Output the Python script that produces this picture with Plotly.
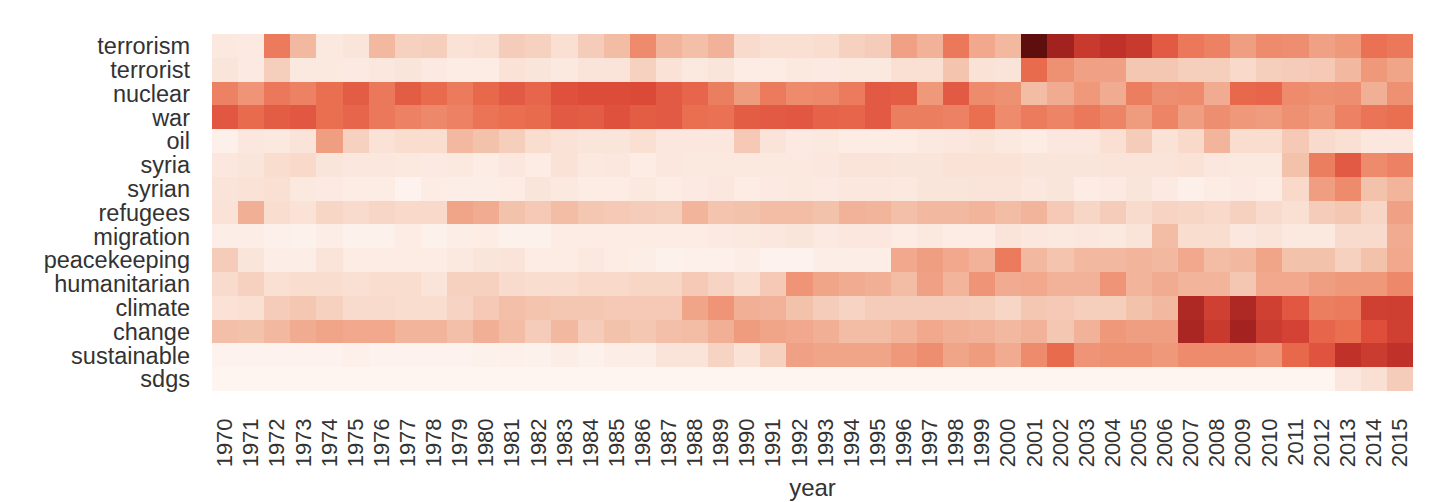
import plotly.graph_objects as go

years = [str(y) for y in range(1970, 2016)]
terms = ["terrorism", "terrorist", "nuclear", "war", "oil", "syria", "syrian", "refugees",
         "migration", "peacekeeping", "humanitarian", "climate", "change", "sustainable", "sdgs"]

terrorism = [.07,.06,.46,.27,.07,.09,.27,.18,.19,.11,.12,.2,.18,.12,.2,.26,.41,.28,.25,.29,.14,.12,.12,.13,.18,.2,.34,.29,.47,.32,.27,1.0,.85,.7,.74,.7,.57,.47,.44,.35,.41,.4,.34,.37,.49,.47]
terrorist = [.09,.06,.19,.07,.07,.06,.08,.09,.06,.05,.05,.11,.09,.07,.1,.1,.18,.11,.07,.09,.05,.05,.07,.06,.07,.07,.12,.12,.23,.11,.1,.51,.39,.34,.34,.22,.22,.19,.19,.15,.19,.2,.21,.27,.37,.33]
nuclear = [.44,.38,.47,.44,.5,.56,.47,.56,.51,.46,.52,.57,.53,.6,.62,.62,.63,.57,.53,.45,.36,.46,.41,.42,.46,.57,.56,.37,.57,.41,.39,.26,.31,.37,.31,.45,.4,.41,.31,.52,.53,.41,.39,.4,.3,.39]
war = [.58,.51,.56,.58,.5,.53,.47,.44,.42,.44,.48,.5,.51,.57,.56,.6,.56,.57,.5,.49,.56,.57,.58,.54,.53,.57,.45,.45,.44,.5,.41,.46,.43,.47,.43,.36,.43,.35,.4,.37,.36,.39,.37,.44,.48,.5]
oil = [.03,.08,.07,.1,.35,.18,.11,.13,.13,.27,.24,.19,.13,.11,.09,.09,.12,.08,.08,.08,.21,.1,.06,.07,.05,.05,.05,.07,.08,.09,.07,.05,.08,.08,.12,.2,.11,.15,.28,.13,.13,.21,.14,.12,.08,.08]
syria = [.08,.09,.13,.15,.09,.08,.08,.07,.06,.07,.05,.08,.05,.11,.07,.08,.05,.08,.07,.07,.07,.07,.07,.08,.1,.1,.09,.09,.11,.11,.11,.09,.09,.09,.1,.1,.1,.11,.08,.07,.07,.24,.45,.57,.41,.44]
syrian = [.1,.11,.12,.07,.06,.05,.05,.01,.05,.04,.04,.05,.09,.07,.05,.05,.07,.05,.06,.08,.05,.06,.07,.06,.08,.08,.07,.09,.09,.1,.1,.08,.09,.05,.06,.09,.06,.03,.05,.06,.05,.15,.35,.41,.24,.28]
refugees = [.11,.3,.13,.11,.16,.14,.16,.15,.15,.33,.31,.24,.21,.26,.22,.21,.2,.19,.28,.23,.24,.26,.26,.24,.29,.28,.25,.27,.27,.28,.26,.28,.21,.16,.2,.14,.17,.16,.15,.18,.14,.12,.2,.22,.16,.34]
migration = [.04,.04,.03,.02,.04,.02,.02,.05,.02,.04,.05,.02,.02,.05,.05,.05,.05,.05,.05,.06,.07,.08,.09,.06,.08,.08,.05,.07,.05,.05,.1,.08,.07,.08,.07,.1,.26,.13,.13,.08,.1,.07,.07,.14,.14,.31]
peacekeeping = [.2,.09,.04,.04,.1,.05,.05,.05,.05,.07,.09,.1,.05,.05,.07,.05,.04,.02,.03,.03,.04,.01,.01,.04,.04,.04,.32,.35,.32,.29,.46,.27,.23,.27,.27,.28,.27,.32,.26,.27,.33,.24,.24,.18,.24,.32]
humanitarian = [.14,.18,.12,.13,.13,.12,.13,.13,.1,.18,.18,.14,.13,.13,.15,.15,.16,.16,.21,.17,.13,.21,.38,.33,.31,.3,.26,.34,.28,.38,.31,.32,.29,.29,.38,.28,.31,.28,.28,.22,.32,.32,.35,.37,.37,.42]
climate = [.11,.12,.2,.22,.18,.14,.14,.13,.13,.17,.21,.25,.23,.22,.22,.21,.21,.21,.33,.38,.3,.29,.24,.2,.17,.2,.2,.2,.2,.19,.16,.22,.21,.19,.19,.24,.27,.8,.67,.8,.67,.58,.45,.46,.67,.68]
change = [.25,.24,.27,.31,.33,.32,.32,.28,.28,.25,.3,.26,.2,.27,.2,.24,.22,.25,.26,.3,.36,.33,.32,.3,.26,.26,.28,.32,.3,.29,.27,.29,.22,.29,.37,.35,.35,.82,.7,.84,.69,.66,.53,.5,.61,.67]
sustainable = [.01,.01,.01,.01,.01,.03,.01,.01,.01,.01,.02,.03,.02,.04,.02,.04,.04,.1,.1,.17,.11,.18,.34,.33,.33,.33,.37,.4,.33,.36,.31,.41,.51,.38,.39,.39,.37,.41,.41,.41,.38,.52,.59,.74,.69,.74]
sdgs = [0,0,0,0,0,0,0,0,0,0,0,0,0,0,0,0,0,0,0,0,0,0,0,0,0,0,0,0,0,0,0,0,0,0,0,0,0,0,0,0,0,0,0,.08,.12,.2]

rows = [terrorism, terrorist, nuclear, war, oil, syria, syrian, refugees,
        migration, peacekeeping, humanitarian, climate, change, sustainable, sdgs]
assert all(len(r) == len(years) for r in rows)

colorscale = [[0, "#fef4f0"], [.125, "#f9dfd2"], [.25, "#f3bfa8"], [.375, "#ef9678"],
              [.5, "#ea6e50"], [.625, "#dc4a38"], [.75, "#bc2f28"], [.875, "#9b1f1e"], [1, "#5f0e0e"]]

fig = go.Figure(go.Heatmap(z=rows, x=years, y=terms, colorscale=colorscale, zmin=0, zmax=1,
                           showscale=False, hoverongaps=False))
fig.update_layout(
    width=1438, height=502, autosize=False,
    margin=dict(l=212, r=25, t=34, b=111, pad=0),
    paper_bgcolor="white", plot_bgcolor="white",
    font=dict(family="Liberation Sans, Arial, sans-serif", size=20, color="#333333"),
    xaxis=dict(type="category", tickangle=-90, ticks="", showgrid=False, zeroline=False,
               tickmode="linear", dtick=1,
               title=dict(text="year", font=dict(size=24, color="#333333"), standoff=12),
               tickfont=dict(size=22, color="#333333"), automargin=False, ticklabelstandoff=22),
    yaxis=dict(type="category", autorange="reversed", ticks="", showgrid=False, zeroline=False,
               tickmode="linear", dtick=1,
               tickfont=dict(size=23.5, color="#333333"), automargin=False, ticklabelstandoff=21),
)
fig.write_html("out.html", config=dict(displayModeBar=False),
               post_script="document.body.style.margin='0';")
